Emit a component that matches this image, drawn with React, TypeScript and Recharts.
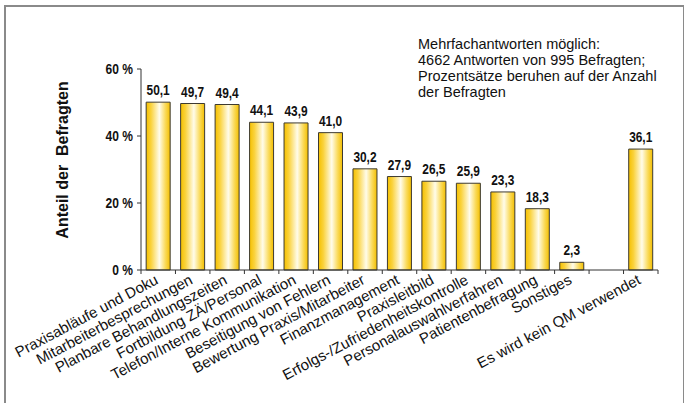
import React from 'react';
import { BarChart, Bar, XAxis, YAxis, LabelList } from 'recharts';

const categories = [
  'Praxisabläufe und Doku',
  'Mitarbeiterbesprechungen',
  'Planbare Behandlungszeiten',
  'Fortbildung ZÄ/Personal',
  'Telefon/Interne Kommunikation',
  'Beseitigung von Fehlern',
  'Bewertung Praxis/Mitarbeiter',
  'Finanzmanagement',
  'Praxisleitbild',
  'Erfolgs-/Zufriedenheitskontrolle',
  'Personalauswahlverfahren',
  'Patientenbefragung',
  'Sonstiges',
  '',
  'Es wird kein QM verwendet',
];
const shares = [50.1, 49.7, 49.4, 44.1, 43.9, 41.0, 30.2, 27.9, 26.5, 25.9, 23.3, 18.3, 2.3, null, 36.1];
const yTicks = [0, 20, 40, 60];
const noteLines = [
  'Mehrfachantworten möglich:',
  '4662 Antworten von 995 Befragten;',
  'Prozentsätze beruhen auf der Anzahl',
  'der Befragten',
];

const data = categories.map((name, i) => ({ name, value: shares[i] }));

const W = 684;
const H = 403;
const LEFT = 141;
const RIGHT = 26;
const TOP = 69;
const BOTTOM = 133;
const BAND = (W - LEFT - RIGHT) / categories.length;
const SANS = "'Liberation Sans', Arial, sans-serif";

const CategoryTick = (props: any) => {
  const { x, y, payload, index } = props;
  const ty = y + 13;
  return (
    <g>
      <line x1={x - BAND / 2} x2={x - BAND / 2} y1={y} y2={y + 4} stroke="#333" />
      {index === categories.length - 1 && (
        <line x1={x + BAND / 2} x2={x + BAND / 2} y1={y} y2={y + 4} stroke="#333" />
      )}
      <text
        x={x + 1}
        y={ty}
        textAnchor="end"
        transform={`rotate(-28 ${x + 1} ${ty})`}
        fontFamily={SANS}
        fontSize={15}
        fill="#111"
      >
        {payload.value}
      </text>
    </g>
  );
};

// condensed bold text like the original's narrow font
const PercentTick = (props: any) => {
  const { x, y, payload } = props;
  return (
    <text
      transform={`translate(${x} ${y}) scale(0.86 1)`}
      dy="0.36em"
      textAnchor="end"
      fontFamily={SANS}
      fontWeight="bold"
      fontSize={14}
      fill="#111"
    >
      {`${payload.value} %`}
    </text>
  );
};

const ValueLabel = (props: any) => {
  const { x, y, width, value } = props;
  if (value == null) return null;
  const cx = Number(x) + Number(width) / 2;
  const ty = Number(y) - 7;
  return (
    <text
      transform={`translate(${cx} ${ty}) scale(0.85 1)`}
      textAnchor="middle"
      fontFamily={SANS}
      fontWeight="bold"
      fontSize={14}
      fill="#111"
    >
      {Number(value).toFixed(1).replace('.', ',')}
    </text>
  );
};

const YTitle = () => (
  <text
    x={68}
    y={160}
    transform="rotate(-90 68 160)"
    textAnchor="middle"
    fontFamily={SANS}
    fontWeight="bold"
    fontSize={16}
    fill="#111"
  >
    Anteil der&#160;&#160;Befragten
  </text>
);

export default function App() {
  return (
    <div style={{ position: 'absolute', left: 0, top: 0, width: W, height: H, overflow: 'hidden', background: '#fff' }}>
      <div
        style={{
          position: 'absolute',
          left: 4,
          top: 5,
          width: 677,
          height: 420,
          borderLeft: '2px solid #8a8a8a',
          borderTop: '2px solid #8a8a8a',
          borderRight: '2px solid #8a8a8a',
        }}
      />
      <div
        style={{
          position: 'absolute',
          left: 418,
          top: 36,
          fontFamily: SANS,
          fontSize: 14.5,
          lineHeight: '16px',
          color: '#111',
          whiteSpace: 'nowrap',
        }}
      >
        {noteLines.map((l) => (
          <div key={l}>{l}</div>
        ))}
      </div>
      <div style={{ position: 'absolute', left: 0, top: 0 }}>
        <BarChart width={W} height={H} data={data} margin={{ top: TOP, right: RIGHT, bottom: 0, left: 0 }} barCategoryGap="15%">
          <defs>
            <linearGradient id="gold" x1="0" y1="0" x2="1" y2="0">
              <stop offset="0%" stopColor="#F5C000" />
              <stop offset="20%" stopColor="#FAD23C" />
              <stop offset="55%" stopColor="#FFFCEA" />
              <stop offset="80%" stopColor="#FADA5A" />
              <stop offset="100%" stopColor="#F3BE00" />
            </linearGradient>
          </defs>
          <XAxis
            dataKey="name"
            height={BOTTOM}
            interval={0}
            tickLine={false}
            tickSize={0}
            tickMargin={0}
            stroke="#333"
            tick={<CategoryTick />}
          />
          <YAxis
            width={LEFT}
            domain={[0, 60]}
            ticks={yTicks}
            tickSize={4}
            tickMargin={4}
            stroke="#333"
            tick={<PercentTick />}
            label={<YTitle />}
          />
          <Bar dataKey="value" fill="url(#gold)" stroke="#3d3a30" strokeWidth={1} isAnimationActive={false}>
            <LabelList dataKey="value" content={<ValueLabel />} />
          </Bar>
        </BarChart>
      </div>
    </div>
  );
}
